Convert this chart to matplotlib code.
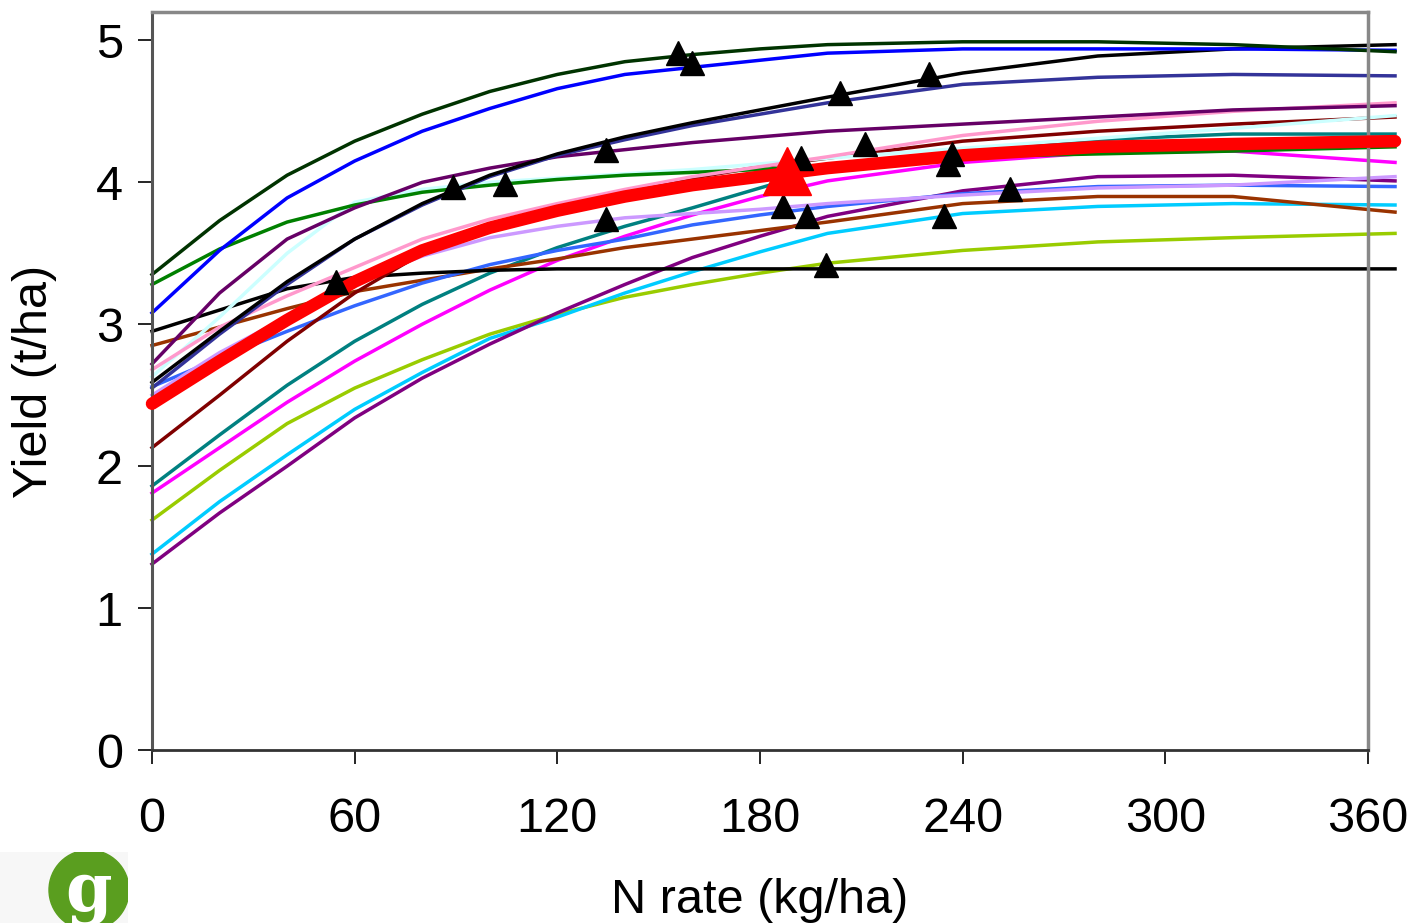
import matplotlib.pyplot as plt
from matplotlib.patches import Circle, Rectangle

plt.rcParams['font.family'] = ['Liberation Sans', 'DejaVu Sans']

# N rate (kg/ha) of the curve points
N_RATE = [0, 20, 40, 60, 80, 100, 120, 140, 160, 180, 200, 240, 280, 320, 368]

# yield curves (t/ha), one per site
DARK_GREEN = [3.35, 3.73, 4.05, 4.29, 4.48, 4.64, 4.76, 4.85, 4.90, 4.94, 4.97, 4.99, 4.99, 4.97, 4.92]
BLUE = [3.08, 3.52, 3.89, 4.15, 4.36, 4.52, 4.66, 4.76, 4.81, 4.86, 4.91, 4.94, 4.94, 4.94, 4.93]
BLACK_UP = [2.59, 2.95, 3.30, 3.60, 3.85, 4.05, 4.20, 4.32, 4.42, 4.51, 4.60, 4.77, 4.89, 4.94, 4.97]
NAVY = [2.55, 2.93, 3.28, 3.60, 3.84, 4.04, 4.19, 4.30, 4.40, 4.48, 4.56, 4.69, 4.74, 4.76, 4.75]
PLUM = [2.72, 3.22, 3.60, 3.82, 4.00, 4.10, 4.18, 4.23, 4.28, 4.32, 4.36, 4.41, 4.46, 4.51, 4.54]
GREEN = [3.28, 3.53, 3.72, 3.84, 3.93, 3.98, 4.02, 4.05, 4.07, 4.09, 4.12, 4.18, 4.20, 4.22, 4.25]
LIGHT_CYAN = [2.63, 3.05, 3.50, 3.86, 3.95, 4.00, 4.03, 4.06, 4.09, 4.13, 4.17, 4.24, 4.31, 4.38, 4.47]
PINK = [2.68, 2.98, 3.20, 3.40, 3.60, 3.74, 3.85, 3.95, 4.04, 4.11, 4.18, 4.33, 4.43, 4.50, 4.56]
MAROON = [2.13, 2.50, 2.88, 3.22, 3.50, 3.68, 3.82, 3.94, 4.03, 4.11, 4.17, 4.29, 4.36, 4.41, 4.46]
LAVENDER = [2.50, 2.80, 3.05, 3.30, 3.48, 3.61, 3.69, 3.75, 3.78, 3.81, 3.85, 3.91, 3.96, 3.98, 4.04]
ROYAL = [2.56, 2.76, 2.95, 3.13, 3.29, 3.42, 3.52, 3.60, 3.70, 3.77, 3.83, 3.92, 3.97, 3.98, 3.97]
BROWN = [2.85, 2.98, 3.11, 3.23, 3.31, 3.39, 3.46, 3.54, 3.60, 3.66, 3.72, 3.85, 3.90, 3.90, 3.79]
TEAL = [1.86, 2.22, 2.57, 2.88, 3.14, 3.36, 3.54, 3.69, 3.82, 3.96, 4.10, 4.20, 4.30, 4.34, 4.34]
MAGENTA = [1.81, 2.13, 2.45, 2.74, 3.00, 3.24, 3.45, 3.62, 3.77, 3.90, 4.01, 4.14, 4.21, 4.22, 4.14]
LIME = [1.62, 1.97, 2.30, 2.55, 2.75, 2.93, 3.07, 3.19, 3.28, 3.36, 3.43, 3.52, 3.58, 3.61, 3.64]
SKY = [1.38, 1.75, 2.08, 2.40, 2.66, 2.90, 3.05, 3.22, 3.37, 3.51, 3.64, 3.78, 3.83, 3.85, 3.84]
PURPLE = [1.31, 1.67, 2.00, 2.34, 2.62, 2.86, 3.08, 3.28, 3.47, 3.62, 3.76, 3.94, 4.04, 4.05, 4.01]
BLACK_FLAT = [2.95, 3.10, 3.25, 3.33, 3.36, 3.38, 3.39, 3.39, 3.39, 3.39, 3.39, 3.39, 3.39, 3.39, 3.39]
MEAN = [2.44, 2.74, 3.03, 3.30, 3.52, 3.68, 3.80, 3.90, 3.98, 4.04, 4.10, 4.19, 4.25, 4.27, 4.29]

# economic optimum N per site
OPT_N = [54.5, 89, 104.5, 134.5, 134.5, 155.7, 160, 186.8, 192, 194, 199.5,
         203.7, 211, 230, 234.5, 235.7, 236.8, 254]
OPT_Y = [3.30, 3.97, 3.99, 4.23, 3.74, 4.91, 4.84, 3.83, 4.17, 3.76, 3.42,
         4.63, 4.27, 4.76, 3.76, 4.13, 4.20, 3.95]
MEAN_OPT_N = [188]
MEAN_OPT_Y = [4.08]

SERIES = [
    (LIME, '#99CC00'), (SKY, '#00CCFF'), (PURPLE, '#800080'), (MAGENTA, '#FF00FF'),
    (TEAL, '#008080'), (BROWN, '#993300'), (ROYAL, '#3366FF'), (LAVENDER, '#CC99FF'),
    (BLACK_FLAT, '#000000'), (MAROON, '#800000'), (LIGHT_CYAN, '#CCFFFF'),
    (GREEN, '#008000'), (PINK, '#FF99CC'), (PLUM, '#660066'), (NAVY, '#333399'),
    (BLACK_UP, '#000000'), (BLUE, '#0000FF'), (DARK_GREEN, '#003300'),
]

fig = plt.figure(figsize=(14.16, 9.23), dpi=100)
ax = fig.add_axes([152 / 1416, 1 - 750 / 923, (1368 - 152) / 1416, (750 - 12) / 923])

for ys, color in SERIES:
    ax.plot(N_RATE, ys, color=color, lw=2.5, clip_on=False, zorder=2)
ax.plot(N_RATE, MEAN, color='#FF0000', lw=9, solid_capstyle='round',
        clip_on=False, zorder=3)
ax.plot(OPT_N, OPT_Y, linestyle='none', marker='^', markersize=17,
        color='black', zorder=4)
ax.plot(MEAN_OPT_N, MEAN_OPT_Y, linestyle='none', marker='^', markersize=34,
        color='#FF0000', zorder=5)

ax.set_xlim(0, 360)
ax.set_ylim(0, 5.2)
ax.set_xticks([0, 60, 120, 180, 240, 300, 360])
ax.set_yticks([0, 1, 2, 3, 4, 5])
ax.tick_params(axis='both', direction='out', length=10, width=1.2, labelsize=35)
ax.tick_params(axis='x', pad=24)
ax.tick_params(axis='y', pad=11)

for side in ['top', 'right']:
    ax.spines[side].set_color('#888888')
    ax.spines[side].set_linewidth(2.5)
ax.spines['left'].set_color('#555555')
ax.spines['left'].set_linewidth(2.2)
ax.spines['bottom'].set_color('#333333')
ax.spines['bottom'].set_linewidth(2.0)

ax.set_xlabel('N rate (kg/ha)', fontsize=35, labelpad=26)
ax.set_ylabel('Yield (t/ha)', fontsize=35, labelpad=28)

# logo in the lower left corner
logo = fig.add_axes([0, 0, 128 / 1416, 71 / 923])
logo.set_xlim(0, 128)
logo.set_ylim(0, 71)
logo.axis('off')
logo.add_patch(Rectangle((0, 0), 128, 71, color='#F7F7F7'))
logo.add_patch(Circle((89, 33), 40, color='#5A9E1F'))
logo.text(89, 30, 'g', color='white', fontsize=48, family='DejaVu Serif',
          ha='center', va='center', fontweight='bold')

fig.savefig('out.png', dpi=100)
